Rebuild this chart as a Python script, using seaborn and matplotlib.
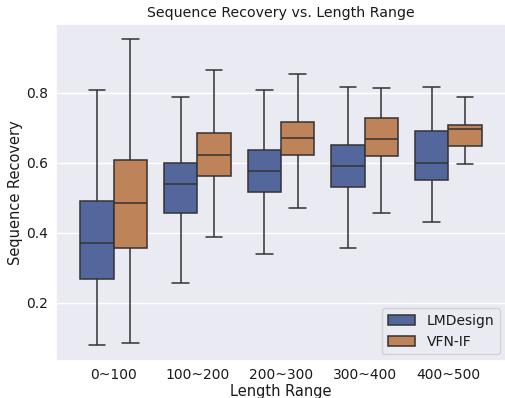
import numpy as np
import pandas as pd
import seaborn as sns
import matplotlib
matplotlib.use("Agg")
import matplotlib.pyplot as plt

categories = ["0~100", "100~200", "200~300", "300~400", "400~500"]
methods = ["LMDesign", "VFN-IF"]

# five-number summaries [min, q1, median, q3, max] per length range
lmdesign_stats = [
    [0.078, 0.269, 0.369, 0.489, 0.807],
    [0.257, 0.457, 0.539, 0.598, 0.787],
    [0.339, 0.517, 0.577, 0.637, 0.807],
    [0.357, 0.529, 0.589, 0.649, 0.817],
    [0.429, 0.549, 0.599, 0.691, 0.817],
]
vfnif_stats = [
    [0.086, 0.356, 0.486, 0.607, 0.952],
    [0.387, 0.562, 0.623, 0.684, 0.865],
    [0.471, 0.621, 0.669, 0.716, 0.852],
    [0.457, 0.618, 0.667, 0.726, 0.814],
    [0.597, 0.646, 0.697, 0.707, 0.787],
]

rows = []
for method, stats in zip(methods, [lmdesign_stats, vfnif_stats]):
    for cat, vals in zip(categories, stats):
        for v in vals:
            rows.append({"Length Range": cat, "Method": method, "Sequence Recovery": v})
df = pd.DataFrame(rows)

sns.set_theme(style="darkgrid")
plt.rcParams["text.color"] = "0.1"
plt.rcParams["axes.labelcolor"] = "0.1"
plt.rcParams["xtick.color"] = "0.1"
plt.rcParams["ytick.color"] = "0.1"

fig = plt.figure(figsize=(5.06, 3.98), dpi=100)
ax = fig.add_axes([56/506, 1-360.7/398, (506-56)/506, (360.7-24)/398])
sns.boxplot(data=df, x="Length Range", y="Sequence Recovery", hue="Method",
            order=categories, hue_order=methods, whis=(0, 100),
            palette=["#54679c", "#bf835a"], saturation=1,
            linecolor="0.2", linewidth=1.1, ax=ax)
ax.set_xlim(-0.69, 4.69)
ax.set_title("Sequence Recovery vs. Length Range", fontsize=10.2, pad=5)
ax.set_xlabel("Length Range", fontsize=10.5, labelpad=1)
ax.set_ylabel("Sequence Recovery", fontsize=10.5, labelpad=2.5)
ax.tick_params(labelsize=10, length=0, pad=5.5)
ax.legend(loc="lower right", fontsize=10, borderaxespad=0.45)
fig.savefig("out.png", dpi=100)
